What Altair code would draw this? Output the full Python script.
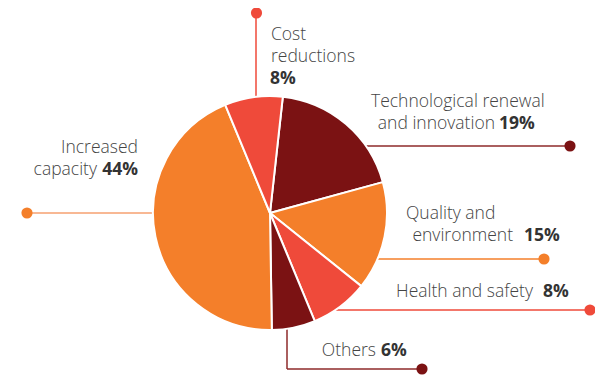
import math
import altair as alt
import pandas as pd

# ---- data ----
categories = ["Technological renewal and innovation", "Quality and environment",
              "Health and safety", "Others", "Increased capacity", "Cost reductions"]
shares = [19, 15, 8, 6, 44, 8]
slice_colors = ["#7b1213", "#f47f2a", "#ef4a3a", "#7b1213", "#f47f2a", "#ef4a3a"]

# label texts (regular part, bold part)
label_lines = [
    ("Cost", ""), ("reductions", ""), ("", "8%"),
    ("Technological renewal", ""), ("and innovation", "19%"),
    ("Increased", ""), ("capacity", "44%"),
    ("Quality and", ""), ("environment", "15%"),
    ("Health and safety", "8%"),
    ("Others", "6%"),
]

# ---- layout (page pixel coordinates) ----
W, H = 587, 368
M = 8
CX, CY, R = 270, 213, 117
START = math.radians(6.3)

xs = alt.Scale(domain=[M, M + W], nice=False, zero=False)
ys = alt.Scale(domain=[M, M + H], nice=False, zero=False, reverse=True)

pie_df = pd.DataFrame({"category": categories, "share": shares,
                       "color": slice_colors, "k": list(range(len(shares)))})

pie = alt.Chart(pie_df).mark_arc(radius=R, stroke="white", strokeWidth=2).encode(
    theta=alt.Theta("share:Q", stack=True,
                    scale=alt.Scale(range=[START, START + 2 * math.pi])),
    color=alt.Color("color:N", scale=None),
    order=alt.Order("k:Q"),
    x=alt.value(CX - M), y=alt.value(CY - M),
)

# leader lines
lines_df = pd.DataFrame({
    "x":  [256, CX, 27, CX, CX, 287, 287],
    "x2": [256, 570, CX, 544, 590, 287, 422],
    "y":  [13, 146, 213, 259, 310, CY, 369],
    "y2": [CY, 146, 213, 259, 310, 369, 369],
    "color": ["#ef4a3a", "#8e2a2a", "#f6a070", "#f47f2a", "#ef4a3a", "#8e2a2a", "#8e2a2a"],
})
rules = alt.Chart(lines_df).mark_rule(strokeWidth=1.5).encode(
    x=alt.X("x:Q", scale=xs, axis=None), x2="x2:Q",
    y=alt.Y("y:Q", scale=ys, axis=None), y2="y2:Q",
    color=alt.Color("color:N", scale=None),
)

dots_df = pd.DataFrame({
    "x": [256.5, 570, 27, 544, 590, 422],
    "y": [13, 146, 213, 259, 310, 369],
    "color": ["#ef4a3a", "#7b1213", "#f47f2a", "#f47f2a", "#ef4a3a", "#7b1213"],
})
dots = alt.Chart(dots_df).mark_circle(size=125, opacity=1).encode(
    x=alt.X("x:Q", scale=xs, axis=None),
    y=alt.Y("y:Q", scale=ys, axis=None),
    color=alt.Color("color:N", scale=None),
)

# text placement: regular x, its alignment, bold x (left aligned unless noted)
reg_x = [271, 271, None, 371, 495, 138, 97, 406, 513, 533, 376]
reg_a = ["left", "left", None, "left", "right", "right", "right", "left", "right", "right", "right"]
bold_x = [None, None, 270, None, 499, None, 138, None, 524, 543, 381]
bold_a = [None, None, "left", None, "left", None, "right", None, "left", "left", "left"]
base_y = [40, 62, 83.5, 107, 128.5, 153, 175, 218.5, 240.5, 296.5, 356]

rows = []
for i, (reg, bold) in enumerate(label_lines):
    if reg:
        rows.append({"x": reg_x[i], "y": base_y[i], "t": reg, "w": "reg", "a": reg_a[i]})
    if bold:
        rows.append({"x": bold_x[i], "y": base_y[i], "t": bold, "w": "bold", "a": bold_a[i]})
text_df = pd.DataFrame(rows)

FONT = "Open Sans"
FS = 17.5


def text_layer(weight, align):
    d = text_df[(text_df.w == weight) & (text_df.a == align)]
    return alt.Chart(d).mark_text(
        align=align, baseline="alphabetic", font=FONT, fontSize=FS,
        fontWeight="bold" if weight == "bold" else 300,
        color="#333333" if weight == "bold" else "#444444",
    ).encode(
        x=alt.X("x:Q", scale=xs, axis=None),
        y=alt.Y("y:Q", scale=ys, axis=None),
        text="t:N",
    )


chart = alt.layer(
    rules, pie, dots,
    text_layer("reg", "left"), text_layer("bold", "left"),
    text_layer("reg", "right"), text_layer("bold", "right"),
).properties(
    width=W, height=H, padding=0, autosize=alt.AutoSizeParams(type="none"),
).configure_view(stroke=None)

chart.save("out.html", embed_options={"renderer": "svg", "actions": False})
